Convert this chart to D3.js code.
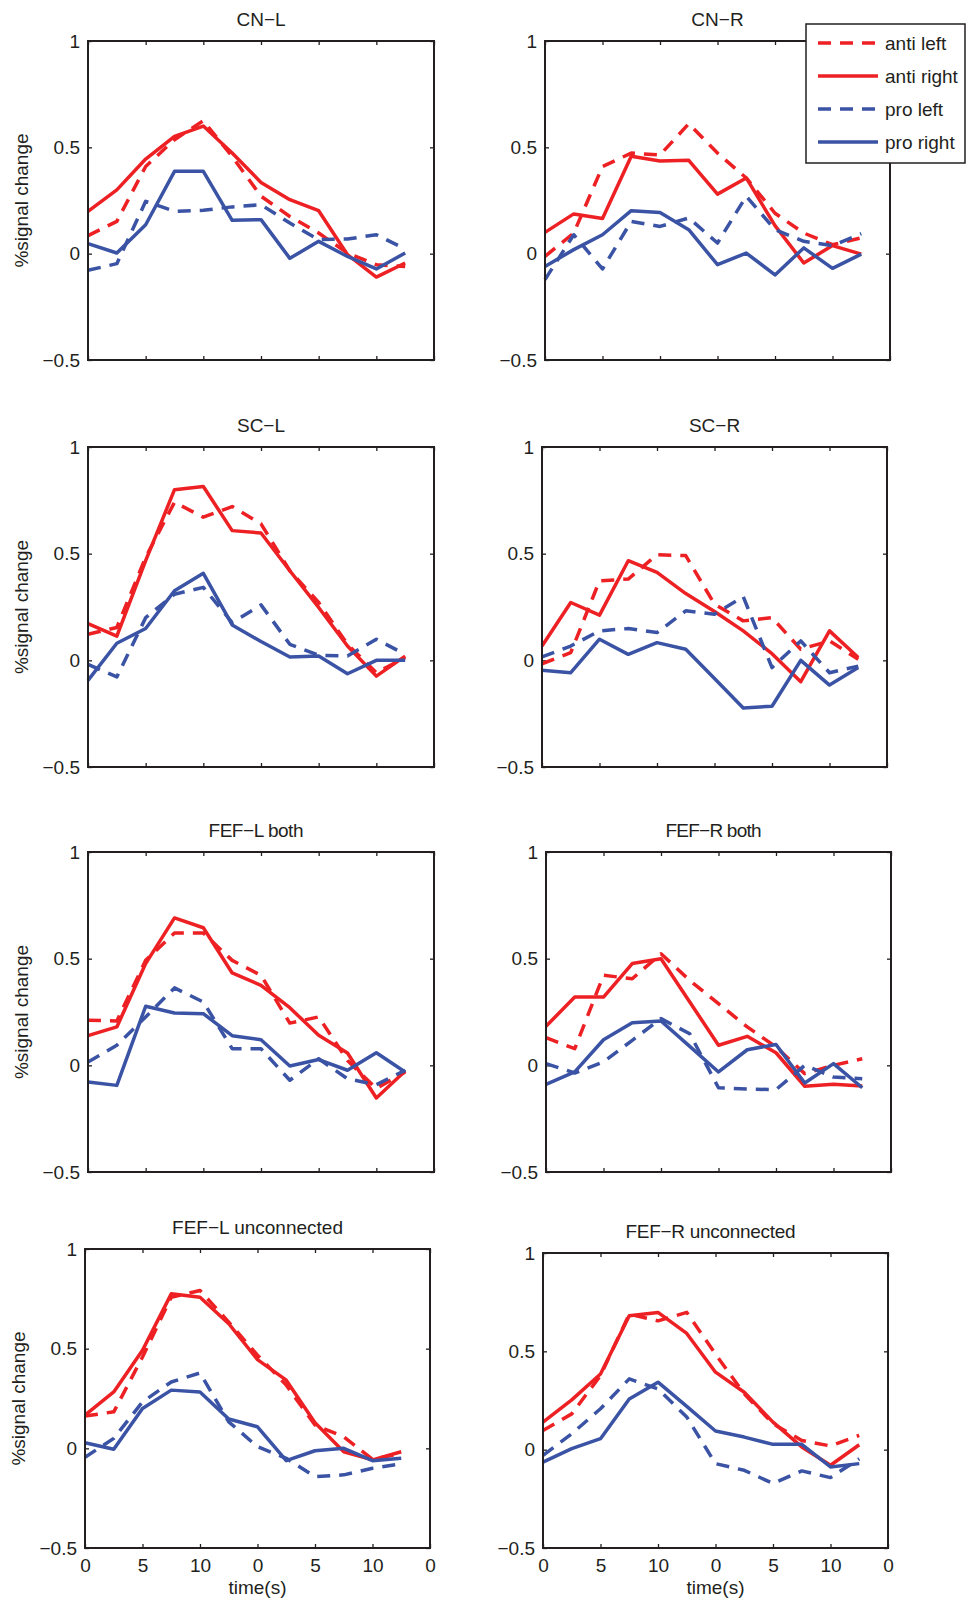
<!DOCTYPE html>
<html>
<head>
<meta charset="utf-8">
<script src="https://cdn.jsdelivr.net/npm/d3@7"></script>
<style>
  body { margin: 0; background: #fff; }
  svg { display: block; font-family: "Liberation Sans", Arial, Helvetica, sans-serif; }
  .tick text { font-size: 19px; fill: #231f20; }
  .tick line { stroke: #231f20; stroke-width: 1.3; }
  .title, .label, .legend-text { font-size: 19px; fill: #231f20; }
</style>
</head>
<body>
<script>
// shared axes values
const time = [0, 2.5, 5, 7.5, 10, 12.5, 15, 17.5, 20, 22.5, 25, 27.5];
const xTicks = [0, 5, 10, 15, 20, 25, 30];
const xTickLabels = ["0", "5", "10", "0", "5", "10", "0"];
const yTicks = [-0.5, 0, 0.5, 1];
const yTickLabels = ["\u22120.5", "0", "0.5", "1"];
const seriesNames = ["anti left", "anti right", "pro left", "pro right"];
const titles = ["CN\u2212L", "CN\u2212R", "SC\u2212L", "SC\u2212R",
    "FEF\u2212L both", "FEF\u2212R both", "FEF\u2212L unconnected", "FEF\u2212R unconnected"];

// CN-L
const cnL_antiLeft  = [0.085, 0.152, 0.41, 0.536, 0.625, 0.457, 0.27, 0.175, 0.097, 0.003, -0.052, -0.06];
const cnL_antiRight = [0.199, 0.30, 0.445, 0.552, 0.60, 0.473, 0.335, 0.254, 0.202, -0.005, -0.11, -0.044];
const cnL_proLeft   = [-0.078, -0.047, 0.246, 0.199, 0.204, 0.22, 0.23, 0.144, 0.066, 0.069, 0.089, 0.022];
const cnL_proRight  = [0.047, 0.003, 0.136, 0.387, 0.387, 0.157, 0.16, -0.022, 0.058, -0.013, -0.072, 0.003];

// CN-R
const cnR_antiLeft  = [-0.013, 0.097, 0.41, 0.473, 0.464, 0.611, 0.473, 0.356, 0.19, 0.097, 0.042, 0.074];
const cnR_antiRight = [0.10, 0.187, 0.165, 0.458, 0.436, 0.439, 0.28, 0.356, 0.132, -0.044, 0.038, -0.002];
const cnR_proLeft   = [-0.122, 0.089, -0.072, 0.152, 0.128, 0.168, 0.05, 0.27, 0.113, 0.058, 0.038, 0.094];
const cnR_proRight  = [-0.06, 0.019, 0.089, 0.202, 0.194, 0.113, -0.052, 0.003, -0.10, 0.027, -0.069, -0.002];

// SC-L
const scL_antiLeft  = [0.122, 0.154, 0.483, 0.741, 0.671, 0.721, 0.64, 0.42, 0.271, 0.075, -0.058, 0.013];
const scL_antiRight = [0.172, 0.113, 0.467, 0.80, 0.815, 0.608, 0.597, 0.42, 0.248, 0.067, -0.074, 0.02];
const scL_proLeft   = [-0.019, -0.078, 0.20, 0.31, 0.342, 0.177, 0.26, 0.075, 0.024, 0.02, 0.099, 0.028];
const scL_proRight  = [-0.094, 0.08, 0.149, 0.326, 0.408, 0.166, 0.088, 0.016, 0.02, -0.063, 0, 0];

// SC-R
const scR_antiLeft  = [-0.016, 0.036, 0.373, 0.381, 0.495, 0.491, 0.263, 0.185, 0.20, 0.052, 0.091, 0.005];
const scR_antiRight = [0.067, 0.271, 0.212, 0.467, 0.412, 0.313, 0.229, 0.138, 0.031, -0.10, 0.138, 0.013];
const scR_proLeft   = [0.016, 0.067, 0.138, 0.149, 0.13, 0.232, 0.216, 0.298, -0.034, 0.091, -0.058, -0.027];
const scR_proRight  = [-0.047, -0.058, 0.099, 0.028, 0.083, 0.052, -0.085, -0.223, -0.215, 0, -0.116, -0.034];

// FEF-L both
const fefLb_antiLeft  = [0.211, 0.208, 0.492, 0.62, 0.62, 0.492, 0.422, 0.198, 0.227, 0.023, -0.109, -0.031];
const fefLb_antiRight = [0.139, 0.18, 0.477, 0.691, 0.645, 0.433, 0.375, 0.27, 0.141, 0.058, -0.153, -0.027];
const fefLb_proLeft   = [0.016, 0.094, 0.227, 0.363, 0.297, 0.078, 0.078, -0.07, 0.031, -0.063, -0.091, -0.023];
const fefLb_proRight  = [-0.078, -0.094, 0.277, 0.245, 0.242, 0.139, 0.12, -0.003, 0.027, -0.023, 0.059, -0.031];

// FEF-R both
const fefRb_antiLeft  = [0.13, 0.078, 0.422, 0.406, 0.523, 0.398, 0.289, 0.18, 0.086, -0.039, 0, 0.031];
const fefRb_antiRight = [0.183, 0.32, 0.32, 0.477, 0.50, 0.297, 0.094, 0.136, 0.059, -0.098, -0.089, -0.097];
const fefRb_proLeft   = [0.008, -0.036, 0.016, 0.117, 0.219, 0.148, -0.105, -0.111, -0.114, 0, -0.055, -0.063];
const fefRb_proRight  = [-0.089, -0.031, 0.12, 0.20, 0.208, 0.089, -0.031, 0.073, 0.098, -0.083, 0.008, -0.105];

// FEF-L unconnected
const fefLu_antiLeft  = [0.162, 0.183, 0.458, 0.758, 0.792, 0.633, 0.467, 0.317, 0.117, 0.058, -0.055, -0.025];
const fefLu_antiRight = [0.167, 0.283, 0.492, 0.775, 0.758, 0.625, 0.445, 0.342, 0.128, -0.017, -0.058, -0.017];
const fefLu_proLeft   = [-0.045, 0.05, 0.233, 0.333, 0.378, 0.133, 0.008, -0.05, -0.142, -0.133, -0.10, -0.078];
const fefLu_proRight  = [0.028, -0.005, 0.20, 0.292, 0.283, 0.147, 0.108, -0.062, -0.012, 0, -0.062, -0.05];

// FEF-R unconnected
const fefRu_antiLeft  = [0.098, 0.182, 0.377, 0.689, 0.655, 0.698, 0.486, 0.284, 0.132, 0.047, 0.019, 0.073];
const fefRu_antiRight = [0.14, 0.253, 0.385, 0.681, 0.698, 0.591, 0.394, 0.292, 0.14, 0.014, -0.079, 0.025];
const fefRu_proLeft   = [-0.029, 0.081, 0.208, 0.36, 0.309, 0.166, -0.071, -0.105, -0.172, -0.108, -0.142, -0.046];
const fefRu_proRight  = [-0.063, 0.005, 0.056, 0.258, 0.343, 0.22, 0.095, 0.064, 0.027, 0.027, -0.088, -0.071];

// styles for the four series (same order as seriesNames)
const seriesColor = ["#ed2024", "#ed2024", "#3a53a4", "#3a53a4"];
const seriesDash = ["13,9", null, "13,9", null];

// panel layout; squeeze = width the title is pressed into (the original had crammed glyphs)
const panels = [
    { x: 88, y: 41, w: 346, h: 319, ylab: true,
      data: [cnL_antiLeft, cnL_antiRight, cnL_proLeft, cnL_proRight] },
    { x: 545, y: 41, w: 345, h: 319,
      data: [cnR_antiLeft, cnR_antiRight, cnR_proLeft, cnR_proRight] },
    { x: 88, y: 447, w: 346, h: 320, ylab: true,
      data: [scL_antiLeft, scL_antiRight, scL_proLeft, scL_proRight] },
    { x: 542, y: 447, w: 345, h: 320,
      data: [scR_antiLeft, scR_antiRight, scR_proLeft, scR_proRight] },
    { x: 88, y: 852, w: 346, h: 320, ylab: true, squeeze: 95, shift: -5,
      data: [fefLb_antiLeft, fefLb_antiRight, fefLb_proLeft, fefLb_proRight] },
    { x: 546, y: 852, w: 345, h: 320, squeeze: 96, shift: -5,
      data: [fefRb_antiLeft, fefRb_antiRight, fefRb_proLeft, fefRb_proRight] },
    { x: 85, y: 1249, w: 345, h: 299, ylab: true, xlab: true,
      data: [fefLu_antiLeft, fefLu_antiRight, fefLu_proLeft, fefLu_proRight] },
    { x: 543, y: 1253, w: 345, h: 295, xlab: true, squeeze: 170, shift: -5,
      data: [fefRu_antiLeft, fefRu_antiRight, fefRu_proLeft, fefRu_proRight] }
];

const svg = d3.select("body").append("svg")
    .attr("width", 966)
    .attr("height", 1601);

panels.forEach(function (p, pi) {
    let g = svg.append("g")
        .attr("transform", `translate(${p.x},${p.y})`);

    let xScale = d3.scaleLinear().domain([0, 30]).range([0, p.w]);
    let yScale = d3.scaleLinear().domain([-0.5, 1]).range([p.h, 0]);

    // ticks on all four sides, pointing inward (matlab box)
    g.append("g")
        .call(d3.axisLeft(yScale).tickValues(yTicks)
            .tickFormat((d, i) => yTickLabels[i])
            .tickSizeInner(-4).tickSizeOuter(0).tickPadding(8));
    g.append("g")
        .attr("transform", `translate(${p.w},0)`)
        .call(d3.axisRight(yScale).tickValues(yTicks).tickFormat("")
            .tickSizeInner(-4).tickSizeOuter(0));
    g.append("g")
        .attr("transform", `translate(0,${p.h})`)
        .call(d3.axisBottom(xScale).tickValues(xTicks)
            .tickFormat((d, i) => p.xlab ? xTickLabels[i] : "")
            .tickSizeInner(-4).tickSizeOuter(0).tickPadding(11));
    g.append("g")
        .call(d3.axisTop(xScale).tickValues(xTicks).tickFormat("")
            .tickSizeInner(-4).tickSizeOuter(0));
    g.selectAll(".domain").remove();
    g.selectAll(".tick text").attr("font-family", null).attr("font-size", null);

    // series
    let line = d3.line()
        .x((d, i) => xScale(time[i]))
        .y((d) => yScale(d));
    p.data.forEach(function (values, k) {
        g.append("path")
            .datum(values)
            .attr("d", line)
            .attr("fill", "none")
            .attr("stroke", seriesColor[k])
            .attr("stroke-width", 3.5)
            .attr("stroke-linejoin", "round")
            .attr("stroke-dasharray", seriesDash[k]);
    });

    // box
    g.append("rect")
        .attr("width", p.w)
        .attr("height", p.h)
        .attr("fill", "none")
        .attr("stroke", "#231f20")
        .attr("stroke-width", 2);

    // title
    let t = g.append("text")
        .attr("class", "title")
        .attr("x", p.w / 2 + (p.shift || 0))
        .attr("y", -15)
        .attr("text-anchor", "middle")
        .text(titles[pi]);
    if (p.squeeze) {
        t.attr("textLength", p.squeeze).attr("lengthAdjust", "spacing");
    }

    if (p.ylab) {
        g.append("text")
            .attr("class", "label")
            .attr("transform", `translate(-60, ${p.h / 2}) rotate(-90)`)
            .attr("text-anchor", "middle")
            .text("%signal change");
    }
    if (p.xlab) {
        g.append("text")
            .attr("class", "label")
            .attr("x", p.w / 2)
            .attr("y", p.h + 46)
            .attr("text-anchor", "middle")
            .text("time(s)");
    }
});

// legend (sits on top of the CN-R panel, against the right edge)
let legend = svg.append("g")
    .attr("transform", "translate(806,24)");
legend.append("rect")
    .attr("width", 159)
    .attr("height", 139)
    .attr("fill", "#fff")
    .attr("stroke", "#231f20")
    .attr("stroke-width", 1.5);
seriesNames.forEach(function (name, k) {
    let rowY = 19 + k * 33;
    legend.append("line")
        .attr("x1", 12).attr("x2", 72)
        .attr("y1", rowY).attr("y2", rowY)
        .attr("stroke", seriesColor[k])
        .attr("stroke-width", 3.5)
        .attr("stroke-dasharray", seriesDash[k]);
    legend.append("text")
        .attr("class", "legend-text")
        .attr("x", 79)
        .attr("y", rowY)
        .attr("dy", "0.35em")
        .text(name);
});
</script>
</body>
</html>
